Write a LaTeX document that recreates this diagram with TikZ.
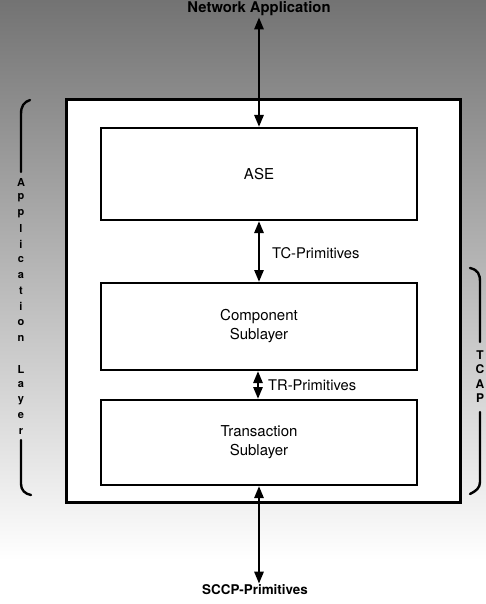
\documentclass[tikz,border=0pt]{standalone}
\usepackage{fontspec}
\setmainfont{TeX Gyre Heros}
\usetikzlibrary{arrows.meta}
\begin{document}
\begin{tikzpicture}[x=1pt,y=-1pt,
  layerbox/.style={draw=black,line width=2pt,fill=white,minimum width=316pt,
    inner sep=0pt,align=center,font=\fontsize{15}{19}\selectfont},
  framebox/.style={draw=black,line width=3pt,fill=white,minimum width=394pt,
    minimum height=402pt,inner sep=0pt},
  primlabel/.style={anchor=west,inner sep=0pt,font=\fontsize{14.7}{17}\selectfont},
  endlabel/.style={inner sep=1pt,font=\bfseries\fontsize{13.4}{16}\selectfont},
  flow/.style={line width=2.6pt,{Triangle[length=12pt,width=9pt]}-{Triangle[length=12pt,width=9pt]}},
  bracket/.style={line width=2.4pt,line cap=round},
  sideletter/.style={inner sep=0pt,font=\bfseries\fontsize{12}{12}\selectfont}]
\useasboundingbox (0,0) rectangle (486,604);
% halftone-like grey page tone, darker at the top
\fill[top color=black!55,bottom color=white] (0,0) rectangle (486,560);
\fill[white] (0,560) rectangle (486,604);

% TCAP frame and its sublayers
\node[framebox] (frame) at (263,301) {};
\node[layerbox,minimum height=92pt] (ase) at (259,174) {ASE};
\node[layerbox,minimum height=87pt] (comp) at (259,326.5) {Component\\Sublayer};
\node[layerbox,minimum height=85pt] (trans) at (259,442.5) {Transaction\\Sublayer};

% end points outside the frame
\node[endlabel,font=\bfseries\fontsize{14.8}{17}\selectfont] (app) at (259,9) {Network Application};
\node[endlabel] (sccp) at (255,590) {SCCP-Primitives};

% primitive flows
\draw[flow] (app.south -| ase.north) -- (ase.north);
\draw[flow] (ase.south) -- (comp.north);
\draw[flow] ([xshift=-1pt]comp.south) -- ([xshift=-1pt]trans.north);
\draw[flow] (trans.south) -- (trans.south |- sccp.north);

\node[primlabel] (tc) at (272,253) {TC-Primitives};
\node[primlabel] (tr) at (268,385) {TR-Primitives};

% right-hand bracket: TCAP
\coordinate (rt) at (470,268);
\coordinate (rb) at (470,494);
\draw[bracket] (rt) .. controls (478,270) and (480,274) .. (480,282) -- (480,342);
\draw[bracket] (480,412) -- (480,482) .. controls (480,488) and (476,491) .. (rb);
\foreach \ch [count=\i from 0] in {T,C,A,P}
  \node[sideletter] (tcap\i) at (480,355+14.5*\i) {\ch};

% left-hand bracket: Application Layer
\coordinate (lt) at (30,100);
\coordinate (lb) at (31,495);
\draw[bracket] (lt) .. controls (24,102) and (21,106) .. (21,114) -- (21,172);
\draw[bracket] (21,440) -- (21,484) .. controls (21,490) and (25,494) .. (lb);
\foreach \ch [count=\i from 0] in {A,p,p,l,i,c,a,t,i,o,n,{},L,a,y,e,r}
  \node[sideletter,font=\bfseries\fontsize{11}{11}\selectfont] (al\i) at (21,182+15.6*\i) {\ch};
\end{tikzpicture}
\end{document}
